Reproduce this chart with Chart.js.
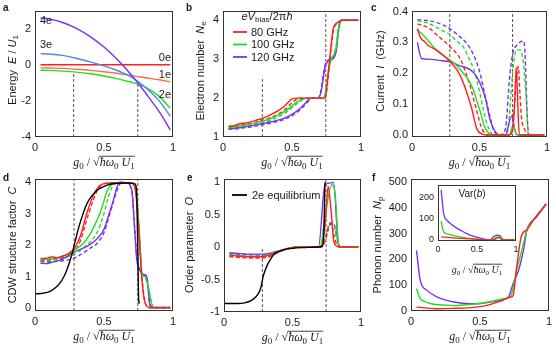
<!DOCTYPE html>
<html>
<head>
<meta charset="utf-8">
<script src="https://cdn.jsdelivr.net/npm/chart.js@4.4.1/dist/chart.umd.min.js"></script>
<style>
html, body { margin: 0; padding: 0; background: #fff; }
body { width: 556px; height: 347px; position: relative; overflow: hidden; }
canvas { position: absolute; left: 0; top: 0; }
</style>
</head>
<body>
<canvas id="pa" width="556" height="347"></canvas>
<canvas id="pb" width="556" height="347"></canvas>
<canvas id="pc" width="556" height="347"></canvas>
<canvas id="pd" width="556" height="347"></canvas>
<canvas id="pe" width="556" height="347"></canvas>
<canvas id="pf" width="556" height="347"></canvas>
<canvas id="pin" width="556" height="347"></canvas>
<script>
// ---- data ----
// a: energies vs g0
const aX   = [0.04, 0.1, 0.2, 0.3, 0.4, 0.5, 0.6, 0.7, 0.75, 0.8, 0.9, 0.98];
const a0e  = [0, 0, 0, 0, 0, 0, 0, 0, 0, 0, 0, 0];
const a1e  = [-0.17, -0.18, -0.2, -0.25, -0.31, -0.39, -0.48, -0.6, -0.66, -0.72, -0.83, -0.94];
const a2e  = [-0.3, -0.31, -0.35, -0.41, -0.5, -0.62, -0.78, -0.97, -1.08, -1.24, -1.75, -2.4];
const a3e  = [0.62, 0.6, 0.52, 0.36, 0.16, -0.06, -0.33, -0.68, -0.95, -1.25, -2.0, -2.85];
const a4e  = [2.59, 2.54, 2.34, 2.02, 1.56, 0.98, 0.26, -0.58, -1.05, -1.55, -2.6, -3.6];
const aGuides = [[0.28, -0.41], [0.745, -1.07]];

// b: electron number
const bRed     = [[0.04,1.28],[0.08,1.29],[0.12,1.34],[0.16,1.36],[0.2,1.39],[0.24,1.43],[0.28,1.47],[0.32,1.53],[0.36,1.6],[0.4,1.68],[0.44,1.78],[0.48,1.92],[0.5,1.98],[0.54,2.0],[0.74,2.0],[0.76,2.55],[0.78,3.25],[0.8,3.8],[0.82,3.92],[0.84,3.96],[0.86,4.0],[0.98,4.0]];
const bRedD    = [[0.04,1.26],[0.08,1.27],[0.12,1.3],[0.2,1.35],[0.28,1.42],[0.36,1.52],[0.44,1.68],[0.5,1.88],[0.54,1.98],[0.58,2.0],[0.74,2.0],[0.76,2.45],[0.78,3.15],[0.8,3.75],[0.82,3.9],[0.86,4.0],[0.98,4.0]];
const bGreen   = [[0.04,1.24],[0.1,1.27],[0.16,1.31],[0.22,1.35],[0.28,1.4],[0.34,1.47],[0.4,1.56],[0.46,1.69],[0.5,1.8],[0.54,1.91],[0.58,1.98],[0.62,2.0],[0.72,2.0],[0.74,2.08],[0.76,2.6],[0.78,2.95],[0.8,3.08],[0.82,3.3],[0.84,3.85],[0.86,4.0],[0.98,4.0]];
const bGreenD  = [[0.04,1.22],[0.1,1.25],[0.16,1.28],[0.22,1.32],[0.28,1.37],[0.34,1.43],[0.4,1.52],[0.46,1.64],[0.5,1.75],[0.54,1.87],[0.58,1.96],[0.62,2.0],[0.72,2.0],[0.74,2.1],[0.76,2.65],[0.78,2.98],[0.8,3.1],[0.82,3.35],[0.84,3.9],[0.86,4.0],[0.98,4.0]];
const bPurple  = [[0.04,1.21],[0.1,1.23],[0.16,1.26],[0.22,1.3],[0.28,1.34],[0.36,1.4],[0.44,1.48],[0.5,1.58],[0.56,1.74],[0.6,1.88],[0.62,1.96],[0.64,2.0],[0.69,2.0],[0.71,2.15],[0.72,2.35],[0.74,2.8],[0.76,2.95],[0.8,3.02],[0.82,3.2],[0.84,3.8],[0.86,4.0],[0.98,4.0]];
const bPurpleD = [[0.04,1.2],[0.1,1.21],[0.16,1.24],[0.22,1.27],[0.28,1.31],[0.36,1.37],[0.44,1.45],[0.5,1.55],[0.56,1.7],[0.6,1.85],[0.63,1.96],[0.65,2.0],[0.69,2.0],[0.71,2.2],[0.72,2.45],[0.74,2.85],[0.76,2.97],[0.8,3.03],[0.82,3.25],[0.84,3.85],[0.86,4.0],[0.98,4.0]];
const bLegend  = ['80 GHz', '100 GHz', '120 GHz'];

// c: current
const cRed     = [[0.04,0.345],[0.06,0.318],[0.1,0.3],[0.12,0.29],[0.18,0.276],[0.24,0.255],[0.28,0.238],[0.33,0.213],[0.36,0.19],[0.4,0.145],[0.44,0.09],[0.48,0.02],[0.52,0.003],[0.56,0],[0.72,0],[0.745,0.015],[0.76,0.1],[0.772,0.22],[0.78,0.15],[0.79,0.03],[0.8,0],[0.98,0]];
const cRedD    = [[0.04,0.36],[0.12,0.348],[0.2,0.318],[0.28,0.287],[0.36,0.245],[0.4,0.2],[0.43,0.16],[0.46,0.11],[0.48,0.078],[0.51,0.03],[0.54,0.005],[0.56,0],[0.73,0],[0.75,0.047],[0.775,0.19],[0.787,0.222],[0.8,0.13],[0.81,0.06],[0.837,0.016],[0.85,0],[0.98,0]];
const cGreen   = [[0.04,0.34],[0.08,0.325],[0.12,0.306],[0.18,0.275],[0.24,0.255],[0.28,0.244],[0.33,0.225],[0.38,0.2],[0.43,0.17],[0.46,0.14],[0.48,0.11],[0.51,0.07],[0.53,0.036],[0.56,0.01],[0.6,0],[0.72,0],[0.75,0.031],[0.77,0.005],[0.79,0],[0.98,0]];
const cGreenD  = [[0.04,0.37],[0.12,0.362],[0.185,0.348],[0.24,0.335],[0.284,0.325],[0.33,0.305],[0.383,0.284],[0.42,0.25],[0.457,0.213],[0.49,0.16],[0.506,0.13],[0.53,0.08],[0.556,0.036],[0.59,0.005],[0.62,0],[0.69,0],[0.71,0.016],[0.75,0.224],[0.775,0.276],[0.8,0.276],[0.825,0.234],[0.85,0.09],[0.86,0.006],[0.88,0],[0.98,0]];
const cPurple  = [[0.04,0.3],[0.07,0.248],[0.12,0.246],[0.2,0.242],[0.284,0.237],[0.35,0.225],[0.43,0.212],[0.47,0.195],[0.506,0.166],[0.543,0.12],[0.58,0.047],[0.617,0.01],[0.654,0],[0.69,0],[0.74,0.063],[0.76,0.02],[0.78,0],[0.98,0]];
const cPurpleD = [[0.04,0.374],[0.12,0.37],[0.185,0.364],[0.284,0.343],[0.35,0.32],[0.407,0.296],[0.45,0.265],[0.48,0.234],[0.51,0.19],[0.53,0.15],[0.568,0.078],[0.605,0.016],[0.64,0],[0.69,0.016],[0.726,0.2],[0.75,0.27],[0.775,0.29],[0.825,0.305],[0.835,0.28],[0.86,0.016],[0.875,0],[0.98,0]];

// d: CDW structure factor
const dBlack   = [[0,0.45],[0.06,0.47],[0.11,0.53],[0.15,0.65],[0.18,0.79],[0.21,1.0],[0.23,1.2],[0.25,1.45],[0.27,1.74],[0.29,2.1],[0.31,2.45],[0.33,2.75],[0.375,3.3],[0.41,3.55],[0.45,3.74],[0.5,3.86],[0.545,3.93],[0.6,3.96],[0.67,3.97],[0.72,3.95],[0.73,3.9],[0.738,3.5],[0.745,1.8],[0.75,0.4],[0.753,0.15],[0.758,0.2]];
const dRed     = [[0.04,1.57],[0.08,1.58],[0.12,1.62],[0.16,1.6],[0.2,1.65],[0.24,1.73],[0.283,1.88],[0.33,2.3],[0.375,3.0],[0.42,3.55],[0.46,3.85],[0.5,3.95],[0.56,3.97],[0.7,3.97],[0.725,3.82],[0.75,2.6],[0.773,1.0],[0.797,0.17],[0.833,0.01],[0.98,0.01]];
const dRedD    = [[0.04,1.52],[0.12,1.55],[0.2,1.6],[0.283,1.78],[0.33,2.15],[0.375,2.8],[0.42,3.4],[0.46,3.8],[0.5,3.94],[0.56,3.97],[0.7,3.96],[0.725,3.8],[0.75,2.7],[0.773,1.1],[0.797,0.2],[0.833,0.01],[0.98,0.01]];
const dGreen   = [[0.04,1.53],[0.1,1.55],[0.16,1.58],[0.22,1.66],[0.283,1.84],[0.35,2.05],[0.4,2.35],[0.44,2.7],[0.47,3.0],[0.5,3.4],[0.52,3.7],[0.55,3.9],[0.58,3.97],[0.7,3.97],[0.737,3.56],[0.76,2.07],[0.773,1.12],[0.797,1.0],[0.82,0.7],[0.845,0.13],[0.855,0.01],[0.98,0.01]];
const dGreenD  = [[0.04,1.5],[0.1,1.51],[0.16,1.54],[0.22,1.6],[0.283,1.7],[0.35,1.9],[0.4,2.1],[0.45,2.4],[0.5,3.0],[0.53,3.5],[0.56,3.85],[0.59,3.96],[0.7,3.96],[0.737,3.5],[0.76,2.1],[0.775,1.15],[0.8,0.95],[0.82,0.68],[0.845,0.15],[0.86,0.01],[0.98,0.01]];
const dPurple  = [[0.04,1.42],[0.08,1.41],[0.12,1.45],[0.2,1.55],[0.283,1.78],[0.35,1.9],[0.4,2.02],[0.45,2.2],[0.5,2.5],[0.54,3.03],[0.57,3.45],[0.59,3.78],[0.615,4.0],[0.66,3.98],[0.7,3.77],[0.725,2.29],[0.737,1.55],[0.76,1.23],[0.785,1.07],[0.81,1.0],[0.833,0.07],[0.857,0.02],[0.98,0.02]];
const dPurpleD = [[0.04,1.47],[0.12,1.47],[0.2,1.5],[0.283,1.58],[0.35,1.75],[0.4,1.9],[0.45,2.05],[0.5,2.4],[0.54,2.95],[0.57,3.4],[0.6,3.8],[0.625,3.97],[0.66,3.97],[0.7,3.75],[0.725,2.4],[0.74,1.5],[0.76,1.2],[0.785,1.05],[0.81,0.98],[0.835,0.07],[0.86,0.02],[0.98,0.02]];

// e: order parameter
const eBlack   = [[0,-0.87],[0.1,-0.87],[0.15,-0.86],[0.2,-0.82],[0.25,-0.72],[0.27,-0.62],[0.285,-0.46],[0.3,-0.36],[0.32,-0.26],[0.345,-0.17],[0.37,-0.1],[0.4,-0.07],[0.44,-0.04],[0.5,-0.02],[0.57,-0.01],[0.69,0],[0.72,0.02],[0.73,0.3],[0.737,0.97],[0.742,1.0]];
const eRed     = [[0.04,-0.13],[0.1,-0.14],[0.2,-0.15],[0.28,-0.15],[0.33,-0.13],[0.38,-0.09],[0.43,-0.05],[0.5,-0.01],[0.55,0],[0.71,0],[0.74,0.4],[0.76,0.93],[0.78,0.6],[0.79,0.35],[0.8,0.1],[0.82,0.02],[0.84,0],[0.98,0]];
const eRedD    = [[0.04,-0.15],[0.1,-0.16],[0.2,-0.17],[0.28,-0.17],[0.33,-0.15],[0.38,-0.1],[0.43,-0.05],[0.5,-0.01],[0.55,0],[0.71,0],[0.74,0.1],[0.765,0.3],[0.78,0.36],[0.8,0.2],[0.82,0.05],[0.84,0],[0.98,0]];
const eGreen   = [[0.04,-0.12],[0.1,-0.13],[0.2,-0.14],[0.28,-0.14],[0.33,-0.12],[0.38,-0.08],[0.43,-0.04],[0.5,-0.01],[0.55,0],[0.7,0],[0.74,0.5],[0.786,0.96],[0.81,0.84],[0.835,0.05],[0.845,0],[0.98,0]];
const eGreenD  = [[0.04,-0.13],[0.1,-0.14],[0.2,-0.15],[0.28,-0.15],[0.33,-0.13],[0.38,-0.09],[0.43,-0.05],[0.5,-0.01],[0.55,0],[0.71,0],[0.745,0.15],[0.775,0.35],[0.8,0.34],[0.82,0.15],[0.84,0.02],[0.85,0],[0.98,0]];
const ePurple  = [[0.04,-0.09],[0.1,-0.1],[0.2,-0.11],[0.28,-0.11],[0.33,-0.1],[0.38,-0.07],[0.43,-0.04],[0.5,-0.01],[0.55,0],[0.69,0],[0.737,0.96],[0.8,0.99],[0.835,0.04],[0.85,0],[0.98,0]];
const ePurpleD = [[0.04,-0.1],[0.1,-0.11],[0.2,-0.12],[0.28,-0.13],[0.33,-0.11],[0.38,-0.08],[0.43,-0.04],[0.5,-0.01],[0.55,0],[0.7,0],[0.74,0.15],[0.774,0.37],[0.8,0.37],[0.82,0.2],[0.84,0.03],[0.86,0],[0.98,0]];

// f: phonon number and inset Var(b)
const fRed    = [[0.04,15],[0.1,12],[0.19,9],[0.3,10],[0.43,13],[0.55,22],[0.65,38],[0.72,54],[0.74,60],[0.766,170],[0.8,290],[0.84,315],[0.9,362],[0.98,415]];
const fGreen  = [[0.04,87],[0.067,48],[0.1,37],[0.14,29],[0.2,24],[0.31,21],[0.4,24],[0.5,29],[0.6,39],[0.67,48],[0.72,54],[0.766,158],[0.815,261],[0.84,313],[0.9,362],[0.98,415]];
const fPurple = [[0.04,235],[0.067,119],[0.116,80],[0.19,54],[0.31,35],[0.43,28],[0.5,29],[0.62,39],[0.706,54],[0.74,106],[0.78,158],[0.815,235],[0.84,313],[0.91,364],[0.98,415]];
const iRed    = [[0.04,15],[0.2,10],[0.41,5],[0.585,1],[0.67,0],[0.72,2],[0.78,11],[0.82,2],[0.85,0],[0.98,0]];
const iGreen  = [[0.04,88],[0.073,38],[0.12,28],[0.2,20],[0.3,13],[0.41,8],[0.585,1],[0.67,0],[0.72,6],[0.76,15],[0.8,14],[0.84,1],[0.86,0],[0.98,0]];
const iPurple = [[0.04,234],[0.073,123],[0.12,90],[0.158,77],[0.22,60],[0.286,46],[0.35,33],[0.41,23],[0.5,13],[0.585,5],[0.67,1],[0.71,15],[0.756,23],[0.8,18],[0.84,1],[0.86,0],[0.98,0]];

// ---- styling ----
const W = 556, H = 347;
const SANS = '"Liberation Sans", Arial, Helvetica, sans-serif';
const SERIF = '"Liberation Serif", "DejaVu Serif", serif';
const RED = '#ff1f1f', GREEN = '#22dd22', PURPLE = '#7b2ff2', BLUE = '#4f86f6', ORANGE = '#ff6a45', BLACK = '#000', GUIDE = '#555';
const INK = '#1a1a1a';
const XTITLE = [['g','mi'],['0','ms'],[' / ','m'],['\u221A','m'],['\u0127\u03C9','mio'],['0','mso'],[' U','mio'],['1','mso']];

const pts = arr => arr.map(p => ({x: p[0], y: p[1]}));
const zipXY = (xs, ys) => xs.map((x, i) => [x, ys[i]]);

function ser(arr, color, dashed, bw) {
  return {data: pts(arr), borderColor: color, borderWidth: bw || 1.4,
          borderDash: dashed ? [4, 2.5] : [], cubicInterpolationMode: 'monotone',
          pointRadius: 0, fill: false};
}
function guide(x, y0, y1) {
  return {data: [{x: x, y: y0}, {x: x, y: y1}], borderColor: GUIDE, borderWidth: 1,
          borderDash: [3, 2], pointRadius: 0, fill: false, order: 10};
}

// draw a run of text pieces; flags: i italic, s subscript, o overline, m serif, b bold
function rich(ctx, parts, x, y, size, rot, align) {
  const font = f => (f.includes('i') ? 'italic ' : '') + (f.includes('b') ? 'bold ' : '') +
    (f.includes('s') ? Math.round(size * 0.72) : size) + 'px ' + (f.includes('m') ? SERIF : SANS);
  const ws = [];
  let total = 0;
  for (const [t, f] of parts) { ctx.font = font(f); const w = ctx.measureText(t).width; ws.push(w); total += w; }
  ctx.save();
  ctx.translate(x, y);
  if (rot) ctx.rotate(rot);
  ctx.fillStyle = INK; ctx.strokeStyle = INK;
  ctx.textBaseline = 'alphabetic'; ctx.textAlign = 'left';
  let cx = align === 'left' ? 0 : align === 'right' ? -total : -total / 2;
  const base = size * 0.36;
  parts.forEach(([t, f], k) => {
    ctx.font = font(f);
    ctx.fillText(t, cx, base + (f.includes('s') ? size * 0.22 : 0));
    if (f.includes('o')) {
      ctx.lineWidth = 0.8;
      ctx.beginPath();
      ctx.moveTo(cx - 0.5, base - size * 0.84);
      ctx.lineTo(cx + ws[k], base - size * 0.84);
      ctx.stroke();
    }
    cx += ws[k];
  });
  ctx.restore();
}
function legendLine(ctx, x0, x1, y, color, dash) {
  ctx.save(); ctx.strokeStyle = color; ctx.lineWidth = 1.8; ctx.setLineDash(dash || []);
  ctx.beginPath(); ctx.moveTo(x0, y); ctx.lineTo(x1, y); ctx.stroke(); ctx.restore();
}

function panel(id, box, yr, yTicks, yFmt, datasets, deco, o) {
  o = o || {};
  const [L, T, R, B] = box;
  const yw = o.yw || 30, xh = o.xh || 20, fs = o.fs || 11;
  const tickFont = {family: SANS, size: fs};
  return new Chart(document.getElementById(id), {
    type: 'line',
    data: {datasets: datasets},
    options: {
      responsive: false, animation: false, events: [],
      layout: {autoPadding: false, padding: {left: L - yw, top: T, right: W - R, bottom: H - B - xh}},
      plugins: {legend: {display: false}, tooltip: {enabled: false}},
      scales: {
        x: {type: 'linear', min: 0, max: 1,
            grid: {display: false, drawTicks: false}, border: {display: false},
            ticks: {font: tickFont, color: INK, padding: o.xpad || 4, maxRotation: 0, callback: v => String(v)},
            afterBuildTicks: s => { s.ticks = [0, 0.5, 1].map(v => ({value: v})); },
            afterFit: s => { s.height = xh; }},
        y: {type: 'linear', min: yr[0], max: yr[1],
            grid: {display: false, drawTicks: false}, border: {display: false},
            ticks: {font: tickFont, color: INK, padding: o.ypad || 4, callback: yFmt},
            afterBuildTicks: s => { s.ticks = yTicks.map(v => ({value: v})); },
            afterFit: s => { s.width = yw; }}
      }
    },
    plugins: [{
      id: 'frame',
      beforeDatasetsDraw(c) {
        if (!o.fill) return;
        const a = c.chartArea;
        c.ctx.save(); c.ctx.fillStyle = '#fff';
        c.ctx.fillRect(a.left, a.top, a.right - a.left, a.bottom - a.top); c.ctx.restore();
      },
      afterDraw(c) {
        const ctx = c.ctx, a = c.chartArea;
        ctx.save(); ctx.strokeStyle = '#333'; ctx.lineWidth = 1;
        ctx.strokeRect(Math.round(a.left) + 0.5, Math.round(a.top) + 0.5,
                       Math.round(a.right - a.left) - 1, Math.round(a.bottom - a.top) - 1);
        ctx.restore();
        rich(ctx, XTITLE, (L + R) / 2, B + (o.xtOff || 25), o.xts || 12);
        deco(ctx, c);
      }
    }]
  });
}
const num = v => String(v);
const ROT = -Math.PI / 2;

// ---- a ----
const A = [35, 6, 173, 137];
panel('pa', A, [-4, 3], [-4, -2, 0, 2], num, [
  ser(zipXY(aX, a4e), PURPLE), ser(zipXY(aX, a3e), BLUE), ser(zipXY(aX, a2e), GREEN),
  ser(zipXY(aX, a1e), ORANGE), ser(zipXY(aX, a0e), RED),
  guide(aGuides[0][0], -4, aGuides[0][1]), guide(aGuides[1][0], -4, aGuides[1][1])
], ctx => {
  rich(ctx, [['a', 'b']], 3, 7, 10, 0, 'left');
  rich(ctx, [['Energy  ', ''], ['E', 'i'], [' / ', ''], ['U', 'i'], ['1', 's']], 12, 70, 11, ROT);
  rich(ctx, [['4e', '']], 40, 20, 11, 0, 'left');
  rich(ctx, [['3e', '']], 40, 44, 11, 0, 'left');
  rich(ctx, [['0e', '']], 171, 57, 11, 0, 'right');
  rich(ctx, [['1e', '']], 171, 74, 11, 0, 'right');
  rich(ctx, [['2e', '']], 171, 94, 11, 0, 'right');
});

// ---- b ----
const Bx = [223, 6, 361, 137];
panel('pb', Bx, [1, 4.25], [1, 2, 3, 4], num, [
  ser(bRed, RED), ser(bGreen, GREEN), ser(bPurple, PURPLE),
  ser(bRedD, RED, true), ser(bGreenD, GREEN, true), ser(bPurpleD, PURPLE, true),
  guide(0.285, 1, 2.5), guide(0.745, 1, 4.25)
], ctx => {
  rich(ctx, [['b', 'b']], 186, 7, 10, 0, 'left');
  rich(ctx, [['Electron number  ', ''], ['N', 'i'], ['e', 's']], 200, 71, 11, ROT);
  rich(ctx, [['e', 'i'], ['V', 'i'], ['bias', 's'], ['/2\u03C0', ''], ['\u0127', 'i']], 267, 16, 11);
  [RED, GREEN, PURPLE].forEach((col, k) => {
    const y = [32, 44.5, 57][k];
    legendLine(ctx, 233, 247, y, col);
    rich(ctx, [[bLegend[k], '']], 251, y, 11, 0, 'left');
  });
});

// ---- c ----
const Cx = [412, 6, 547, 137];
panel('pc', Cx, [-0.0063, 0.4031], [0, 0.1, 0.2, 0.3, 0.4], v => v.toFixed(1), [
  ser(cRed, RED), ser(cGreen, GREEN), ser(cPurple, PURPLE),
  ser(cRedD, RED, true), ser(cGreenD, GREEN, true), ser(cPurpleD, PURPLE, true),
  guide(0.28, -0.0063, 0.4031), guide(0.745, -0.0063, 0.4031)
], ctx => {
  rich(ctx, [['c', 'b']], 371, 7, 10, 0, 'left');
  rich(ctx, [['Current  ', ''], ['I', 'i'], ['  (GHz)', '']], 380, 71, 11, ROT);
}, {yw: 34});

// ---- d ----
const Dx = [35, 179, 173, 311];
panel('pd', Dx, [-0.095, 4.095], [0, 1, 2, 3, 4], num, [
  ser(dBlack, BLACK),
  ser(dRed, RED), ser(dGreen, GREEN), ser(dPurple, PURPLE),
  ser(dRedD, RED, true), ser(dGreenD, GREEN, true), ser(dPurpleD, PURPLE, true),
  guide(0.283, -0.095, 4.095), guide(0.745, -0.095, 4.095)
], ctx => {
  rich(ctx, [['d', 'b']], 3, 177, 10, 0, 'left');
  rich(ctx, [['CDW structure factor  ', ''], ['C', 'i']], 12, 245, 11, ROT);
});

// ---- e ----
const Ex = [224, 179, 361, 312];
panel('pe', Ex, [-1, 1.046], [-1, -0.5, 0, 0.5, 1], num, [
  ser(eBlack, BLACK),
  ser(eRed, RED), ser(eGreen, GREEN), ser(ePurple, PURPLE),
  ser(eRedD, RED, true), ser(eGreenD, GREEN, true), ser(ePurpleD, PURPLE, true),
  guide(0.28, -1, 0), guide(0.745, -1, 1.046)
], ctx => {
  rich(ctx, [['e', 'b']], 187, 177, 10, 0, 'left');
  rich(ctx, [['Order parameter  ', ''], ['O', 'i']], 189, 245, 11, ROT);
  legendLine(ctx, 232, 247, 195, BLACK);
  rich(ctx, [['2e equilibrium', '']], 252, 195, 11, 0, 'left');
});

// ---- f ----
const Fx = [411, 179, 549, 311];
panel('pf', Fx, [0, 512], [0, 100, 200, 300, 400, 500], num, [
  ser(fRed, RED), ser(fGreen, GREEN), ser(fPurple, PURPLE)
], ctx => {
  rich(ctx, [['f', 'b']], 372, 177, 10, 0, 'left');
  rich(ctx, [['Phonon number  ', ''], ['N', 'i'], ['p', 's']], 377, 245, 11, ROT);
});

// ---- inset ----
const Ix = [438, 185, 516, 241];
panel('pin', Ix, [-4.6, 256], [0, 100, 200], num, [
  ser(iRed, RED, false, 1.3), ser(iGreen, GREEN, false, 1.3), ser(iPurple, PURPLE, false, 1.3)
], ctx => {
  rich(ctx, [['Var(', ''], ['b', 'i'], [')', '']], 472, 193, 10);
}, {yw: 24, fs: 9, xpad: 3, fill: true, xtOff: 28, xts: 10});
</script>
</body>
</html>
